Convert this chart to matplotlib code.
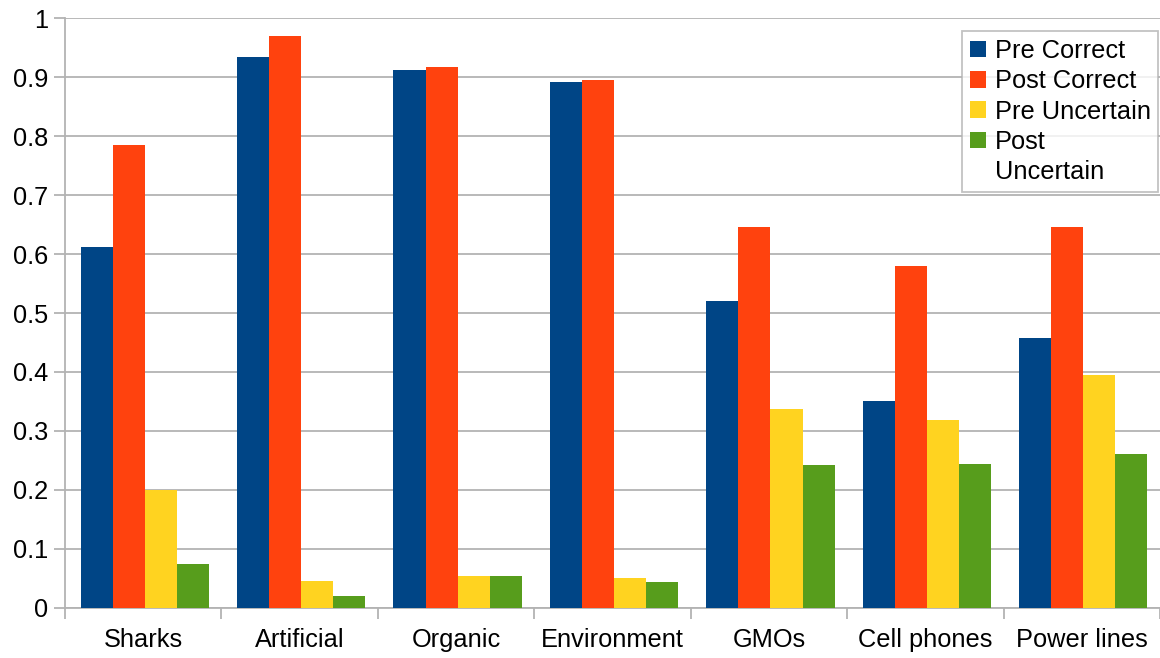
import numpy as np
import matplotlib.pyplot as plt
from matplotlib.patches import Patch

# Données
categories = ["Sharks", "Artificial", "Organic", "Environment", "GMOs", "Cell phones", "Power lines"]
pre_correct = [0.612, 0.934, 0.912, 0.892, 0.520, 0.351, 0.458]
post_correct = [0.785, 0.971, 0.918, 0.895, 0.646, 0.580, 0.646]
pre_uncertain = [0.200, 0.045, 0.054, 0.050, 0.337, 0.318, 0.395]
post_uncertain = [0.074, 0.020, 0.054, 0.044, 0.242, 0.244, 0.261]

series = [pre_correct, post_correct, pre_uncertain, post_uncertain]
labels = ["Pre Correct", "Post Correct", "Pre Uncertain", "Post"]
colors = ["#004586", "#ff420e", "#ffd320", "#579d1c"]

plt.rcParams['font.family'] = ['Liberation Sans', 'DejaVu Sans']
grid_col = "#b3b3b3"

fig = plt.figure(figsize=(11.6, 6.58), dpi=100)
ax = fig.add_axes([0.056, 0.0765, 0.944, 0.8955])

x = np.arange(len(categories))
w = 0.205
for k, (vals, lab, col) in enumerate(zip(series, labels, colors)):
    ax.bar(x + (k - 1.5) * w + 0.01, vals, width=w, color=col, label=lab, zorder=3)

ax.set_xlim(-0.5, len(categories) - 0.5)
ax.set_ylim(0, 1)
ax.set_yticks(np.arange(0, 1.01, 0.1))
ax.set_yticklabels(["0"] + ["%.1f" % v for v in np.arange(0.1, 0.95, 0.1)] + ["1"])
ax.yaxis.grid(True, color=grid_col, linewidth=1.3, zorder=0)

ax.set_xticks(x)
ax.set_xticklabels(categories)
ax.set_xticks(np.arange(-0.5, len(categories), 1), minor=True)
ax.tick_params(axis='x', which='major', length=0, pad=15, labelsize=18.3)
ax.tick_params(axis='x', which='minor', length=8, width=1.3, color=grid_col)
ax.tick_params(axis='y', length=8, width=1.3, color=grid_col, pad=4, labelsize=18.3)

for s in ["top", "right"]:
    ax.spines[s].set_visible(False)
for s in ["left", "bottom"]:
    ax.spines[s].set_color(grid_col)
    ax.spines[s].set_linewidth(1.3)

# légende : le libellé "Post Uncertain" est coupé sur deux lignes
handles, labs = ax.get_legend_handles_labels()
handles.append(Patch(facecolor="none", edgecolor="none"))
labs.append("Uncertain")
leg = ax.legend(handles, labs, loc="upper right", bbox_to_anchor=(0.9985, 0.978), fontsize=18.3,
                frameon=True, fancybox=False, handlelength=0.63, handleheight=0.63,
                handletextpad=0.35, labelspacing=0.25, borderpad=0.3, borderaxespad=0)
leg.get_frame().set_edgecolor(grid_col)
leg.get_frame().set_linewidth(1.3)

fig.savefig("out.png", dpi=100)
